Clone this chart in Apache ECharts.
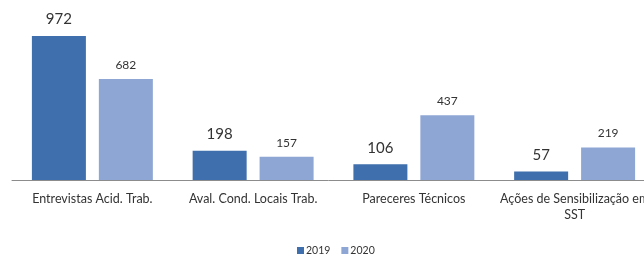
<!DOCTYPE html>
<html>
<head>
<meta charset="utf-8">
<script src="https://cdn.jsdelivr.net/npm/echarts@6/dist/echarts.min.js"></script>
<style>
  html, body { margin: 0; padding: 0; background: #fff; }
  #main { width: 644px; height: 258px; }
</style>
</head>
<body>
<div id="main"></div>
<script>
// dados do gráfico
const categories = ['Entrevistas Acid. Trab.', 'Aval. Cond. Locais Trab.', 'Pareceres Técnicos', 'Ações de Sensibilização em\nSST'];
const seriesNames = ['2019', '2020'];
const values2019 = [972, 198, 106, 57];
const values2020 = [682, 157, 437, 219];

const color = ['#3f6fac', '#8ea6d4'];
const chart = echarts.init(document.getElementById('main'));

chart.setOption({
  animation: false,
  color: color,
  textStyle: { fontFamily: 'Lato' },
  // a grelha passa da margem direita: o último rótulo fica cortado como no original
  grid: { left: 12, top: 36, right: -11, bottom: 78, containLabel: false, outerBoundsMode: 'none' },
  legend: {
    data: seriesNames,
    top: 240,
    left: 292,
    icon: 'rect',
    itemWidth: 7,
    itemHeight: 7,
    itemGap: 11,
    textStyle: { fontSize: 10.5, color: '#333', padding: [0, 0, 0, -3] }
  },
  xAxis: {
    type: 'category',
    data: categories,
    axisTick: { show: false },
    axisLine: { lineStyle: { color: '#8c8c8c', width: 1 } },
    axisLabel: { fontSize: 12.5, color: '#333', margin: 11, interval: 0, lineHeight: 16 }
  },
  yAxis: {
    type: 'value',
    min: 0,
    max: 972,
    show: false,
    splitLine: { show: false }
  },
  series: [
    {
      name: seriesNames[0],
      type: 'bar',
      data: values2019,
      barWidth: 54,
      barGap: '24%',
      label: { show: true, position: 'top', distance: 9, fontSize: 15, color: '#333' }
    },
    {
      name: seriesNames[1],
      type: 'bar',
      data: values2020,
      barWidth: 54,
      label: { show: true, position: 'top', distance: 8, fontSize: 12, color: '#333' }
    }
  ]
});
</script>
</body>
</html>
